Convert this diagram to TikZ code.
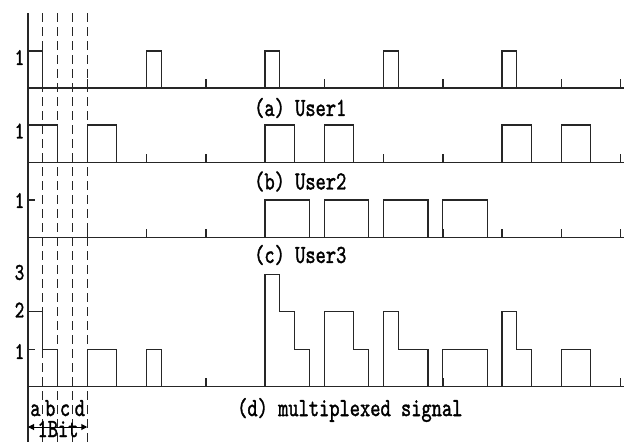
\documentclass[tikz,border=0pt]{standalone}
\usepackage{fontspec}
\usetikzlibrary{arrows.meta}
\newfontfamily\capfont[FakeBold=1.6]{lmmono10-regular.otf}
\begin{document}
\begin{tikzpicture}[x=1pt,y=-1pt,
  axis/.style={line width=1.5pt,draw=black!85},
  pulse/.style={line width=1.2pt,draw=black!85,line join=miter},
  guide/.style={line width=1pt,draw=black!85,dash pattern=on 9pt off 5pt},
  lvltick/.style={line width=1.2pt,draw=black!85},
  txt/.style={inner sep=0pt,font=\fontsize{26}{28}\selectfont\capfont},
  dig/.style={inner sep=0pt,font=\fontsize{24}{26}\selectfont\capfont}]
\useasboundingbox (0,0) rectangle (624,442);
% bit = 59.25, slot = bit/4, origin at x = 28
\def\xo{28}\def\bit{59.25}\def\slot{14.8125}
\def\h{37.5}
\newcommand\cond[1]{\scalebox{0.75}[1]{#1}}

% vertical axis and slot guides
\draw[axis] (28,13) -- (28,442);
\foreach \s in {1,2,3,4}
  \draw[guide] ({\xo+\slot*\s},13) -- ({\xo+\slot*\s},442);

% time axes with bit ticks
\foreach \yb in {88,162.7,237.7,386.7}{
  \draw[axis] (28,\yb) -- (624,\yb);
  \foreach \k in {1,...,10}
    \draw[axis] ({\xo+\bit*\k},\yb) -- ++(0,-9);
}

% level ticks
\draw[lvltick] (28,200) -- (35,200);
\draw[lvltick] (28,349.2) -- (35,349.2);

% User1: one slot per pulse
\foreach \k in {0,2,4,6,8}
  \draw[pulse] ({\xo+\bit*\k},88) -- ++(0,-37) -- ++(\slot,0) -- ++(0,37);
% User2: two slots per pulse
\foreach \k in {0,1,4,5,8,9}
  \draw[pulse] ({\xo+\bit*\k},162.7) -- ++(0,-37.7) -- ++({2*\slot},0) -- ++(0,37.7);
% User3: three slots per pulse
\foreach \k in {4,5,6,7}
  \draw[pulse] ({\xo+\bit*\k},237.7) -- ++(0,-37.7) -- ++({3*\slot},0) -- ++(0,37.7);

% multiplexed signal: level in slots a, b, c
\foreach \k/\la/\lb/\lc in {0/2/1/0,1/1/1/0,2/1/0/0,4/3/2/1,5/2/2/1,6/2/1/1,7/1/1/1,8/2/1/0,9/1/1/0}{
  \pgfmathsetmacro\xa{\xo+\bit*\k}
  \pgfmathsetmacro\xb{\xa+\slot}
  \pgfmathsetmacro\xc{\xa+2*\slot}
  \pgfmathsetmacro\xd{\xa+3*\slot}
  \draw[pulse] (\xa,386.7) -- (\xa,{386.7-\h*\la}) -- (\xb,{386.7-\h*\la})
    -- (\xb,{386.7-\h*\lb}) -- (\xc,{386.7-\h*\lb})
    -- (\xc,{386.7-\h*\lc}) -- (\xd,{386.7-\h*\lc}) -- (\xd,386.7);
}

% level labels
\node[dig] (l1) at (19.5,57.5) {\cond{1}};
\node[dig] (l2) at (19.5,131) {\cond{1}};
\node[dig] (l3) at (19.5,200.5) {\cond{1}};
\node[dig] (m3) at (19.5,272.5) {\cond{3}};
\node[dig] (m2) at (19.5,310) {\cond{2}};
\node[dig] (m1) at (19.5,351.5) {\cond{1}};

% captions
\node[txt,anchor=west] (ca) at (254,108) {\cond{(a) User1}};
\node[txt,anchor=west] (cb) at (254,181.5) {\cond{(b) User2}};
\node[txt,anchor=west] (cc) at (254,255) {\cond{(c) User3}};
\node[txt,anchor=west] (cd) at (237,410) {\cond{(d) multiplexed signal}};

% slot names
\foreach \n/\s in {a/0,b/1,c/2,d/3}
  \node[txt,anchor=base] (s\n) at ({\xo+\slot*(\s+0.5)},416) {\cond{\n}};

% one bit span
\coordinate (bl) at (28,427);
\coordinate (br) at (87.25,427);
\draw[line width=1pt,{Triangle[length=6pt,width=6pt]}-{Triangle[length=6pt,width=6pt]}] (bl) -- (br);
\node[txt,anchor=base] (bitlbl) at (58,437) {\cond{1Bit}};
\end{tikzpicture}
\end{document}
